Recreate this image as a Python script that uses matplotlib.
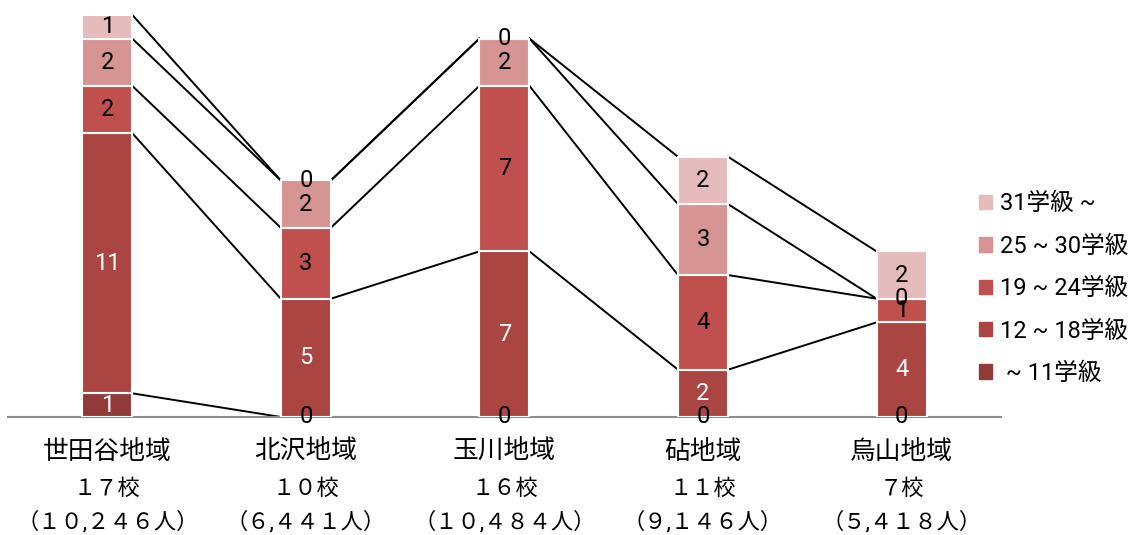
import numpy as np
import matplotlib.pyplot as plt
import matplotlib.patches as mpatches
from matplotlib.transforms import blended_transform_factory

# ── Data ──────────────────────────────────────────────────────────────
areas    = ["世田谷地域", "北沢地域", "玉川地域", "砧地域", "烏山地域"]
schools  = ["１７校", "１０校", "１６校", "１１校", "７校"]
pupils   = ["（１０,２４６人）", "（６,４４１人）", "（１０,４８４人）",
            "（９,１４６人）", "（５,４１８人）"]

series   = [" ~ 11学級", "12 ~ 18学級", "19 ~ 24学級", "25 ~ 30学級", "31学級 ~"]
s_le11   = [1, 0, 0, 0, 0]
s_12_18  = [11, 5, 7, 2, 4]
s_19_24  = [2, 3, 7, 4, 1]
s_25_30  = [2, 2, 2, 3, 0]
s_31up   = [1, 0, 0, 2, 2]
values   = [s_le11, s_12_18, s_19_24, s_25_30, s_31up]

colors   = ["#923a39", "#aa4542", "#c0504d", "#d69492", "#e5bcbb"]
label_fc = ["white", "white", "black", "black", "black"]

plt.rcParams['font.family'] = ['Roboto', 'Noto Sans CJK JP', 'DejaVu Sans']

fig = plt.figure(figsize=(11.31, 5.35), dpi=100)
ax = fig.add_axes([0.007, 0.2206, 0.878, 0.7794])

x = np.arange(len(areas))
w = 0.252
bottom = np.zeros(len(areas))
tops = []
for vals, col, lc in zip(values, colors, label_fc):
    vals = np.array(vals, dtype=float)
    ax.bar(x, vals, w, bottom=bottom, color=col, edgecolor="white",
           linewidth=1.5, zorder=3)
    for xi, b, v in zip(x, bottom, vals):
        c = lc if v > 0 else "black"
        ax.text(xi, b + v / 2, f"{int(v)}", ha="center", va="center",
                fontsize=17, color=c, zorder=5)
    bottom = bottom + vals
    tops.append(bottom.copy())

# series lines between neighbouring bars
for top in tops:
    for i in range(len(areas) - 1):
        ax.plot([x[i] + w / 2, x[i + 1] - w / 2], [top[i], top[i + 1]],
                color="black", linewidth=1.4, zorder=2)

ax.set_xlim(-0.5, len(areas) - 0.5)
ax.set_ylim(0, 17.63)
for sp in ["top", "right", "left"]:
    ax.spines[sp].set_visible(False)
ax.spines["bottom"].set_color("#8c8c8c")
ax.spines["bottom"].set_linewidth(1.5)
ax.set_xticks([])
ax.set_yticks([])

# category labels (three lines)
tr = blended_transform_factory(ax.transData, fig.transFigure)
for xi, a, s, p in zip(x, areas, schools, pupils):
    ax.text(xi, 1 - 452 / 535, a, transform=tr, ha="center", va="center",
            fontsize=18.5)
    ax.text(xi, 1 - 489 / 535, s, transform=tr, ha="center", va="center",
            fontsize=16)
    ax.text(xi, 1 - 522 / 535, p, transform=tr, ha="center", va="center",
            fontsize=16)

# legend (top series first)
handles = [mpatches.Patch(color=c, label=l) for c, l in zip(colors, series)][::-1]
fig.legend(handles=handles, loc="upper left", bbox_to_anchor=(0.847, 0.68),
           frameon=False, fontsize=17, handlelength=0.55, handleheight=0.55,
           handletextpad=0.35, labelspacing=0.82)

fig.savefig("out.png", dpi=100)
